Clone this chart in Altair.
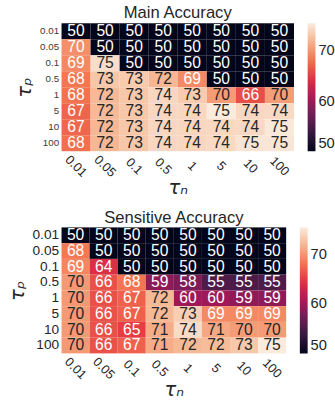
import altair as alt
import pandas as pd

tau = ["0.01", "0.05", "0.1", "0.5", "1", "5", "10", "100"]

main_vals = [
    [50, 50, 50, 50, 50, 50, 50, 50],
    [69.6, 50, 50, 50, 50, 50, 50, 50],
    [69.2, 74.5, 50, 50, 50, 50, 50, 50],
    [68.2, 73.0, 73.2, 72.0, 69.3, 50, 50, 50],
    [68.0, 72.2, 73.0, 74.0, 73.3, 70.3, 66.0, 70.4],
    [67.2, 72.2, 73.0, 74.0, 74.0, 75.4, 74.1, 74.2],
    [67.3, 72.0, 73.0, 74.0, 74.0, 74.1, 74.2, 75.2],
    [67.8, 72.0, 73.0, 74.0, 74.0, 74.2, 75.0, 75.1],
]

sens_vals = [
    [50, 50, 50, 50, 50, 50, 50, 50],
    [68.2, 50, 50, 50, 50, 50, 50, 50],
    [69.0, 64.0, 50, 50, 50, 50, 50, 50],
    [70.1, 66.0, 68.0, 59.0, 58.0, 55.2, 55.0, 55.2],
    [70.1, 66.0, 67.0, 72.0, 60.0, 60.0, 59.0, 59.0],
    [70.1, 66.1, 67.0, 72.0, 73.4, 69.2, 69.2, 69.2],
    [70.1, 66.0, 65.0, 71.2, 74.3, 71.0, 70.3, 70.3],
    [70.1, 66.1, 67.0, 71.2, 72.0, 72.2, 73.0, 75.3],
]

rocket = ["#03051a", "#35193e", "#701f57", "#ad1759",
          "#e13342", "#f37651", "#f6b48f", "#faebdd"]

FONT = "Liberation Sans"
DARK = "#262626"


def hex2rgb(h):
    return [int(h[i:i + 2], 16) / 255 for i in (1, 3, 5)]


def text_color(t):
    n = len(rocket) - 1
    t = min(max(t, 0), 1)
    i = min(int(t * n), n - 1)
    f = t * n - i
    a, b = hex2rgb(rocket[i]), hex2rgb(rocket[i + 1])
    rgb = [a[k] + (b[k] - a[k]) * f for k in range(3)]
    lin = [c / 12.92 if c <= 0.03928 else ((c + 0.055) / 1.055) ** 2.4 for c in rgb]
    lum = 0.2126 * lin[0] + 0.7152 * lin[1] + 0.0722 * lin[2]
    return DARK if lum > 0.408 else "white"


def heat(vals, title, w, h, ylab_size, ylab_color):
    vmin = 50
    vmax = max(max(r) for r in vals)
    rows = []
    for i, tp in enumerate(tau):
        for j, tn in enumerate(tau):
            v = vals[i][j]
            rows.append({"tp": tp, "tn": tn, "v": v,
                         "tc": text_color((v - vmin) / (vmax - vmin))})
    df = pd.DataFrame(rows)
    n = len(rocket) - 1
    dom = [vmin + (vmax - vmin) * k / n for k in range(n + 1)]
    base = alt.Chart(df).encode(
        x=alt.X("tn:O", sort=tau, title="τₙ",
                axis=alt.Axis(labelAngle=45, labelAlign="center", labelBaseline="middle",
                              labelPadding=15, labelFontSize=13, labelFont=FONT,
                              labelColor=DARK, ticks=False, domain=False,
                              titleFontSize=20, titleFont="DejaVu Sans",
                              titleFontStyle="italic", titleY=43,
                              titleBaseline="alphabetic",
                              titleFontWeight="normal", titleColor=DARK)),
        y=alt.Y("tp:O", sort=tau, title="τₚ",
                axis=alt.Axis(labelFontSize=ylab_size, labelFont=FONT, labelColor=ylab_color,
                              ticks=False, domain=False, labelPadding=3,
                              titleFontSize=20, titleFont="DejaVu Sans",
                              titleFontStyle="italic",
                              titleFontWeight="normal", titleColor=DARK, titlePadding=5)),
    )
    rect = base.mark_rect().encode(
        color=alt.Color("v:Q",
                        scale=alt.Scale(domain=dom, range=rocket, interpolate="rgb"),
                        legend=alt.Legend(title=None, values=[50, 60, 70], gradientLength=h,
                                          gradientThickness=8, labelFontSize=15,
                                          labelFont=FONT, labelColor=DARK, offset=14,
                                          padding=0, gradientStrokeWidth=0, labelOffset=3)))
    txt = base.mark_text(fontSize=16, font=FONT).encode(
        text=alt.Text("v:Q", format=".0f"),
        color=alt.Color("tc:N", scale=None, legend=None))
    return alt.layer(rect, txt).resolve_scale(color="independent").properties(
        width=w, height=h,
        title=alt.TitleParams(title, fontSize=17, font=FONT, fontWeight="normal",
                              color=DARK, offset=1))


top = heat(main_vals, "Main Accuracy", 238, 131, 10, "#3a3a3a")
bottom = heat(sens_vals, "Sensitive Accuracy", 230, 129, 14, DARK)

chart = alt.concat(top, bottom, columns=1, spacing=12).resolve_scale(
    color="independent").configure_view(stroke=None).properties(
    padding={"left": 7, "top": 0, "right": 0, "bottom": 0})

chart.save("out.html", embed_options={"renderer": "svg", "actions": False})
